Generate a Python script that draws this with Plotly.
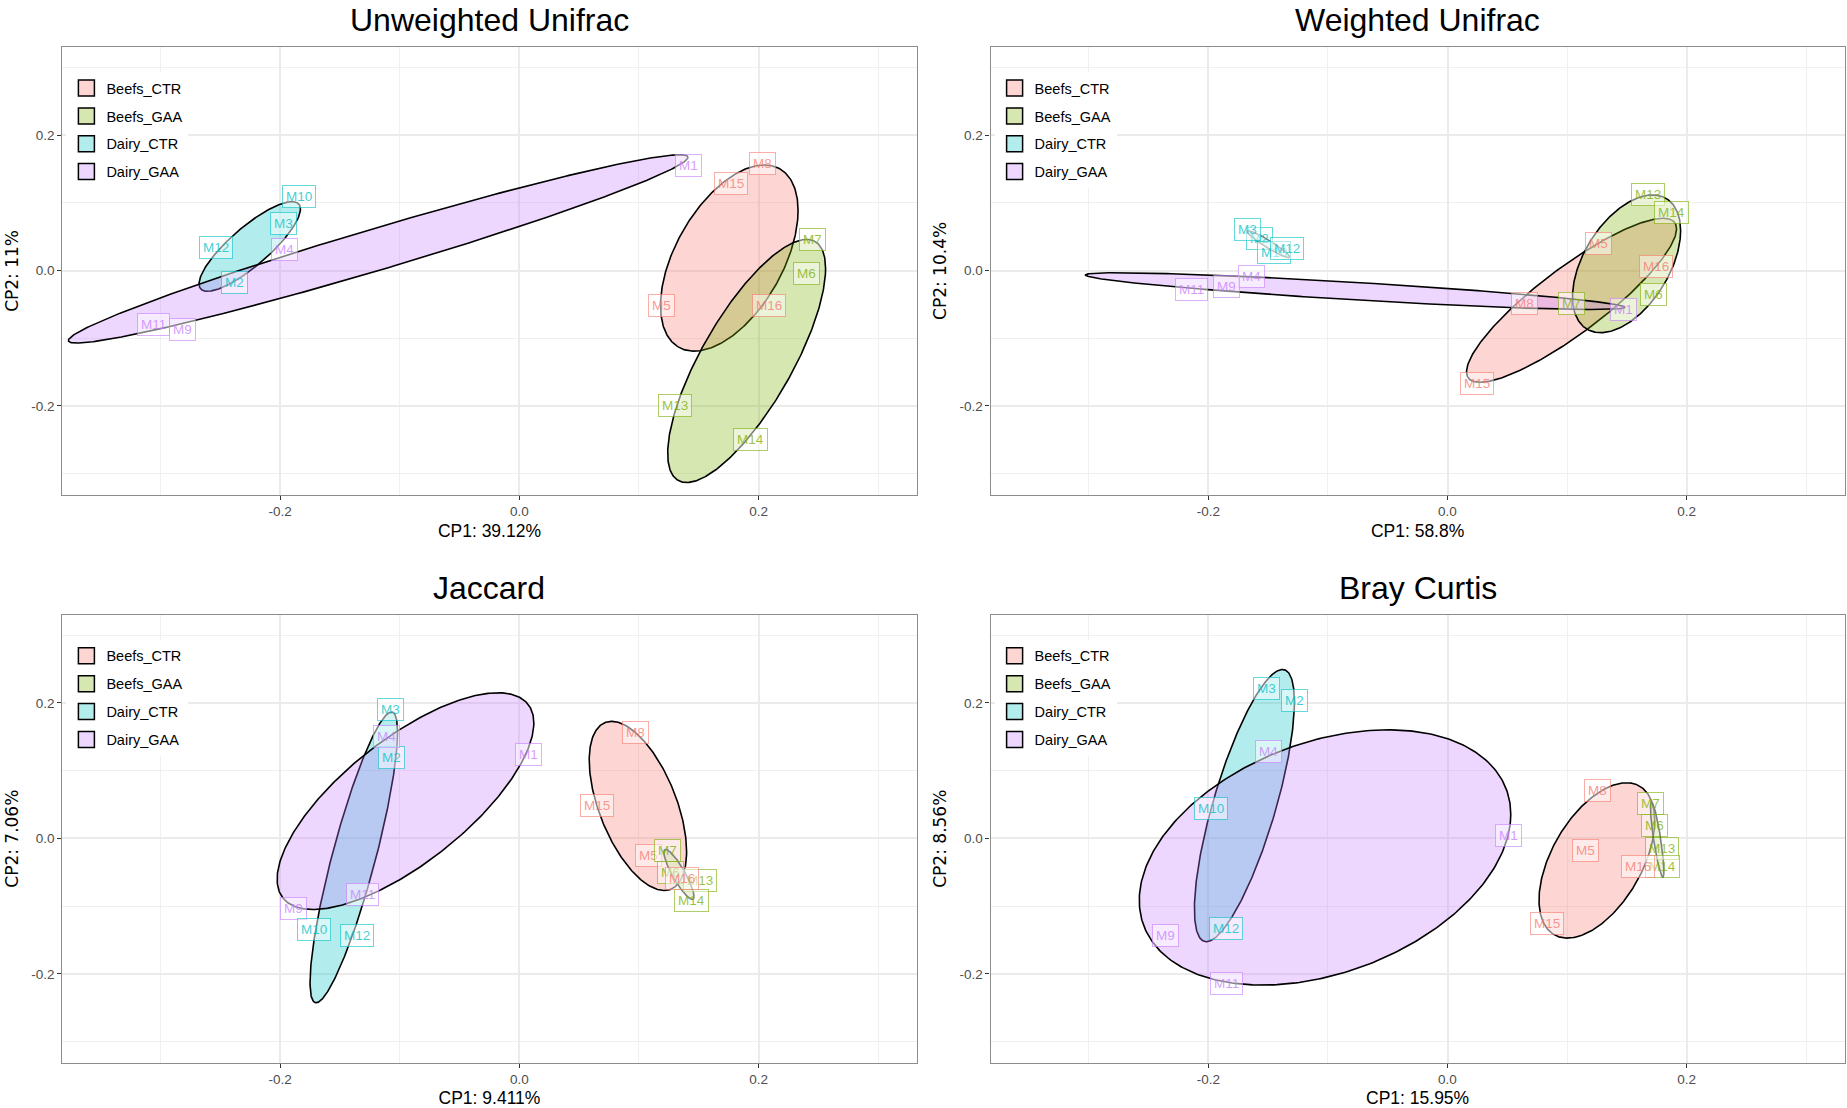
import numpy as np
import plotly.graph_objects as go

# ---------------- data ----------------
samples = ["M1", "M2", "M3", "M4", "M5", "M6", "M7", "M8",
           "M9", "M10", "M11", "M12", "M13", "M14", "M15", "M16"]
sample_group = ["Dairy_GAA", "Dairy_CTR", "Dairy_CTR", "Dairy_GAA",
                "Beefs_CTR", "Beefs_GAA", "Beefs_GAA", "Beefs_CTR",
                "Dairy_GAA", "Dairy_CTR", "Dairy_GAA", "Dairy_CTR",
                "Beefs_GAA", "Beefs_GAA", "Beefs_CTR", "Beefs_CTR"]
group_names = ["Beefs_CTR", "Beefs_GAA", "Dairy_CTR", "Dairy_GAA"]
group_colors = ["#F8766D", "#7CAE00", "#00BFC4", "#C77CFF"]

panel_titles = ["Unweighted Unifrac", "Weighted Unifrac", "Jaccard", "Bray Curtis"]
cp1_titles = ["CP1: 39.12%", "CP1: 58.8%", "CP1: 9.411%", "CP1: 15.95%"]
cp2_titles = ["CP2: 11%", "CP2: 10.4%", "CP2: 7.06%", "CP2: 8.56%"]

tick_vals = [-0.2, 0.0, 0.2]
tick_text = ["-0.2", "0.0", "0.2"]
minor_vals = [-0.3, -0.1, 0.1, 0.3]

# sample coordinates (order of `samples`)
unweighted_cp1 = [0.141, -0.238, -0.197, -0.196, 0.119, 0.240, 0.245, 0.203,
                  -0.282, -0.184, -0.306, -0.254, 0.130, 0.193, 0.177, 0.209]
unweighted_cp2 = [0.155, -0.018, 0.069, 0.031, -0.052, -0.005, 0.046, 0.158,
                  -0.087, 0.109, -0.079, 0.034, -0.200, -0.249, 0.129, -0.052]

weighted_cp1 = [0.147, -0.157, -0.167, -0.164, 0.126, 0.172, 0.104, 0.064,
                -0.185, -0.145, -0.214, -0.134, 0.168, 0.187, 0.025, 0.174]
weighted_cp2 = [-0.057, 0.048, 0.060, -0.009, 0.040, -0.035, -0.048, -0.048,
                -0.024, 0.026, -0.028, 0.033, 0.113, 0.086, -0.167, 0.006]

jaccard_cp1 = [0.008, -0.107, -0.108, -0.111, 0.108, 0.126, 0.124, 0.097,
               -0.189, -0.172, -0.131, -0.136, 0.151, 0.144, 0.0645, 0.136]
jaccard_cp2 = [0.1245, 0.119, 0.190, 0.151, -0.025, -0.050, -0.018, 0.157,
               -0.104, -0.134, -0.083, -0.1435, -0.062, -0.092, 0.048, -0.060]

bray_cp1 = [0.051, -0.128, -0.151, -0.150, 0.115, 0.173, 0.170, 0.125,
            -0.236, -0.198, -0.185, -0.185, 0.179, 0.180, 0.083, 0.159]
bray_cp2 = [0.004, 0.203, 0.221, 0.128, -0.018, 0.019, 0.051, 0.071,
            -0.144, 0.0435, -0.215, -0.133, -0.015, -0.042, -0.126, -0.042]

# group ellipse summaries (order of `group_names`):
# centre, spread along CP1, spread along CP2, correlation
unweighted_ell_cx = [0.1755, 0.190, -0.2254, -0.118]
unweighted_ell_cy = [0.0185, -0.1335, 0.0356, 0.032]
unweighted_ell_sx = [0.0575, 0.066, 0.0424, 0.259]
unweighted_ell_sy = [0.1375, 0.1795, 0.0662, 0.139]
unweighted_ell_r = [0.51, 0.76, 0.835, 0.973]

weighted_ell_cx = [0.1037, 0.1497, -0.1498, -0.0772]
weighted_ell_cy = [-0.0439, 0.010, 0.039, -0.0304]
weighted_ell_sx = [0.0878, 0.0452, 0.0178, 0.2255]
weighted_ell_sy = [0.1211, 0.1017, 0.020, 0.0272]
weighted_ell_r = [0.872, 0.48, -0.95, -0.879]

jaccard_ell_cx = [0.0991, 0.1334, -0.1384, -0.0952]
jaccard_ell_cy = [0.0479, -0.0533, -0.0281, 0.055]
jaccard_ell_sx = [0.0407, 0.0126, 0.0366, 0.1073]
jaccard_ell_sy = [0.1249, 0.0369, 0.2147, 0.160]
jaccard_ell_r = [-0.54, -0.88, 0.86, 0.72]

bray_ell_cx = [0.1249, 0.1753, -0.1698, -0.1024]
bray_ell_cy = [-0.0326, -0.0018, 0.0484, -0.0282]
bray_ell_sx = [0.0484, 0.0056, 0.0418, 0.1553]
bray_ell_sy = [0.1147, 0.0554, 0.201, 0.1885]
bray_ell_r = [0.51, -0.84, 0.76, 0.337]

# ---------------- helpers ----------------
def rgba(hex_color, a):
    h = hex_color.lstrip("#")
    r, g, b = int(h[0:2], 16), int(h[2:4], 16), int(h[4:6], 16)
    return f"rgba({r},{g},{b},{a})"

theta = np.linspace(0, 2 * np.pi, 361)

def ellipse(cx, cy, sx, sy, r):
    x = cx + sx * np.cos(theta)
    y = cy + sy * (r * np.cos(theta) + np.sqrt(1 - r * r) * np.sin(theta))
    return x, y

panels = [
    (unweighted_cp1, unweighted_cp2,
     (unweighted_ell_cx, unweighted_ell_cy, unweighted_ell_sx, unweighted_ell_sy, unweighted_ell_r)),
    (weighted_cp1, weighted_cp2,
     (weighted_ell_cx, weighted_ell_cy, weighted_ell_sx, weighted_ell_sy, weighted_ell_r)),
    (jaccard_cp1, jaccard_cp2,
     (jaccard_ell_cx, jaccard_ell_cy, jaccard_ell_sx, jaccard_ell_sy, jaccard_ell_r)),
    (bray_cp1, bray_cp2,
     (bray_ell_cx, bray_ell_cy, bray_ell_sx, bray_ell_sy, bray_ell_r)),
]

W, H = 1847, 1108
x_domains = [[62.4 / W, 916.5 / W], [990.6 / W, 1844.6 / W]]
y_domains = [[1 - 494.7 / H, 1 - 47.1 / H], [1 - 1062.5 / H, 1 - 614.9 / H]]
x_range = [-0.382, 0.332]
y_range = [-0.331, 0.330]

FONT = "Liberation Sans, Arial, Helvetica, sans-serif"
color_of = dict(zip(group_names, group_colors))

fig = go.Figure()
layout = dict(
    width=W, height=H, margin=dict(l=0, r=0, t=0, b=0),
    paper_bgcolor="white", plot_bgcolor="white",
    font=dict(family=FONT, color="black"),
    showlegend=True,
)
annotations = []

for p, (cp1, cp2, ell) in enumerate(panels):
    i = p + 1
    col, row = p % 2, p // 2
    xa = "x" if i == 1 else f"x{i}"
    ya = "y" if i == 1 else f"y{i}"
    leg = "legend" if i == 1 else f"legend{i}"

    # ellipses
    cxs, cys, sxs, sys_, rs = ell
    for g, name in enumerate(group_names):
        ex, ey = ellipse(cxs[g], cys[g], sxs[g], sys_[g], rs[g])
        fig.add_trace(go.Scatter(
            x=ex, y=ey, xaxis=xa, yaxis=ya, mode="lines", fill="toself",
            fillcolor=rgba(group_colors[g], 0.3),
            line=dict(color="black", width=1.6),
            legendgroup=f"{i}_{name}", showlegend=False, hoverinfo="skip",
            name=name,
        ))
    # legend entries
    for g, name in enumerate(group_names):
        fig.add_trace(go.Scatter(
            x=[None], y=[None], xaxis=xa, yaxis=ya, mode="markers",
            marker=dict(symbol="square", size=16, color=rgba(group_colors[g], 0.3),
                        line=dict(color="black", width=1.5)),
            name=name, legend=leg, legendgroup=f"{i}_{name}", showlegend=True,
        ))
    # invisible points for hover
    fig.add_trace(go.Scatter(
        x=cp1, y=cp2, xaxis=xa, yaxis=ya, mode="markers",
        marker=dict(size=1, color="rgba(0,0,0,0)"), text=samples,
        hovertemplate="%{text}<extra></extra>", showlegend=False,
    ))
    # sample labels
    for s, name in enumerate(samples):
        c = color_of[sample_group[s]]
        annotations.append(dict(
            x=cp1[s], y=cp2[s], xref=xa, yref=ya, text=name, showarrow=False,
            font=dict(family=FONT, size=13.5, color=rgba(c, 0.75)),
            bgcolor="rgba(255,255,255,0.5)", bordercolor=rgba(c, 0.6),
            borderwidth=1, borderpad=3,
        ))

    axis_common = dict(
        tickmode="array", tickvals=tick_vals, ticktext=tick_text,
        ticks="outside", ticklen=4, tickwidth=1, tickcolor="#333333",
        tickfont=dict(family=FONT, size=13.5, color="#4D4D4D"),
        showgrid=True, gridcolor="#EBEBEB", gridwidth=1.8,
        minor=dict(tickmode="array", tickvals=minor_vals, showgrid=True,
                   gridcolor="#F0F0F0", gridwidth=0.9, ticks=""),
        zeroline=False, showline=True, mirror=True,
        linecolor="#8C8C8C", linewidth=1.3,
    )
    layout[f"xaxis{'' if i == 1 else i}"] = dict(
        axis_common, domain=x_domains[col], range=x_range, anchor=ya,
        title=dict(text=cp1_titles[p], font=dict(family=FONT, size=17.5, color="black"),
                   standoff=6),
    )
    layout[f"yaxis{'' if i == 1 else i}"] = dict(
        axis_common, domain=y_domains[row], range=y_range, anchor=xa,
        title=dict(text=cp2_titles[p],
                   font=dict(family="DejaVu Sans, sans-serif", size=17, color="black"),
                   standoff=8),
    )
    layout[leg] = dict(
        x=x_domains[col][0] + 4 / W, y=y_domains[row][1] - 25 / H,
        xanchor="left", yanchor="top",
        bgcolor="white", borderwidth=0,
        font=dict(family=FONT, size=14.5, color="black"),
        tracegroupgap=6, itemwidth=30,
    )
    # panel title
    annotations.append(dict(
        x=(x_domains[col][0] + x_domains[col][1]) / 2,
        y=y_domains[row][1] + 27 / H, xref="paper", yref="paper",
        text=panel_titles[p], showarrow=False, xanchor="center", yanchor="middle",
        font=dict(family=FONT, size=32, color="black"),
    ))

layout["annotations"] = annotations
fig.update_layout(**layout)

fig.write_html("out.html", config={"displayModeBar": False},
               post_script="document.body.style.margin='0';")
